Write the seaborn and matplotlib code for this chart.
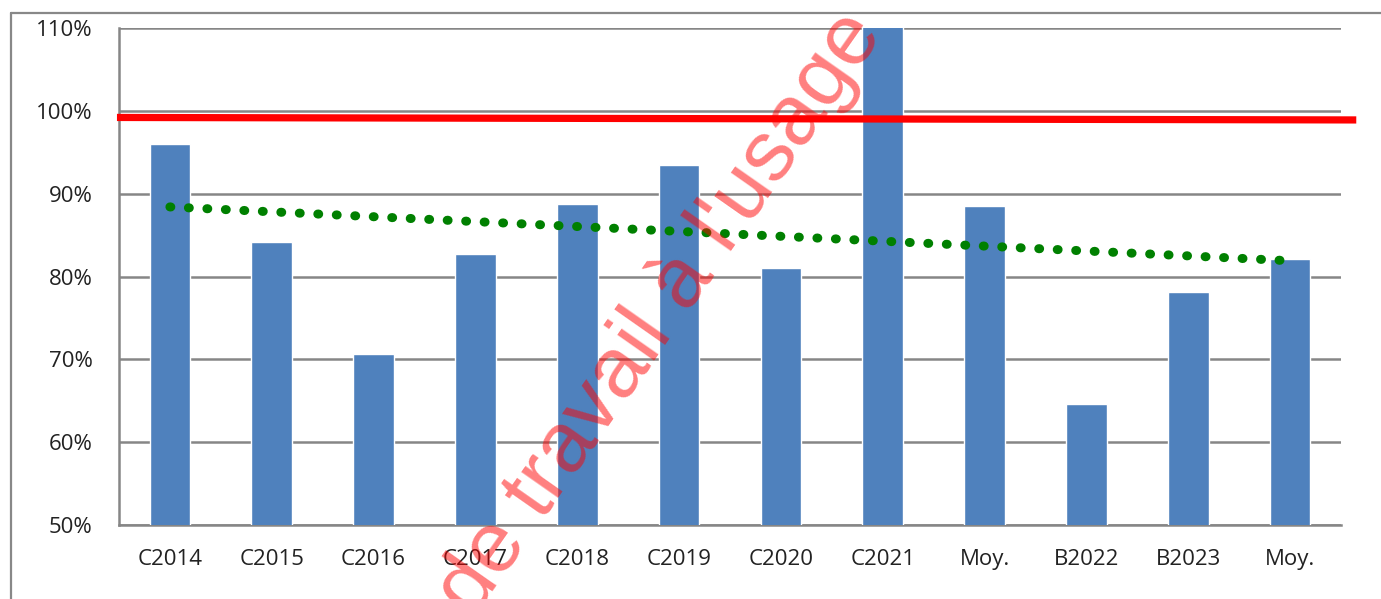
import numpy as np
import pandas as pd
import matplotlib
matplotlib.use("Agg")
import matplotlib.pyplot as plt
from matplotlib.lines import Line2D
from matplotlib.ticker import FuncFormatter
import seaborn as sns

categories = ["C2014", "C2015", "C2016", "C2017", "C2018", "C2019",
              "C2020", "C2021", "Moy.", "B2022", "B2023", "Moy."]
values = [96.0, 84.2, 70.7, 82.7, 88.8, 93.5, 81.0, 112.0, 88.5, 64.6, 78.1, 82.1]
target_line = [99.2, 98.9]      # red reference line, left / right end
trend_line = [88.4, 81.9]       # green dotted trend, first / last bar
y_ticks = [50, 60, 70, 80, 90, 100, 110]

sns.set_theme(style="white")
plt.rcParams["font.family"] = ["Open Sans", "DejaVu Sans"]

df = pd.DataFrame({"pos": np.arange(len(categories)), "value": values})

fig = plt.figure(figsize=(13.81, 5.99), dpi=100)
ax = fig.add_axes([119 / 1381, 74 / 599, 1222 / 1381, 497 / 599])

sns.barplot(data=df, x="pos", y="value", color="#4F81BD", saturation=1,
            width=0.4, ax=ax, zorder=3)

ax.set_xlim(-0.5, len(categories) - 0.5)
ax.set_ylim(50, 110)
ax.set_yticks(y_ticks)
ax.yaxis.set_major_formatter(FuncFormatter(lambda v, p: f"{v:.0f}%"))
ax.set_xticks(range(len(categories)))
ax.set_xticklabels(categories)
ax.set_xlabel("")
ax.set_ylabel("")
ax.tick_params(axis="both", length=0, labelsize=16, colors="#222222")
ax.tick_params(axis="y", pad=19)
ax.tick_params(axis="x", pad=17)

ax.grid(axis="y", color="#868686", linewidth=1.8, zorder=0)
ax.set_axisbelow(True)
for side in ["top", "right"]:
    ax.spines[side].set_visible(False)
for side in ["left", "bottom"]:
    ax.spines[side].set_color("#868686")
    ax.spines[side].set_linewidth(1.8)

# red objective line, running slightly past the plot area
ax.plot([-0.52, 11.65], target_line, color="#FF0000", linewidth=5.2,
        solid_capstyle="butt", clip_on=False, zorder=5)

# green dotted trend
ax.plot([0, len(categories) - 1], trend_line, color="#008000", linewidth=6.5,
        linestyle=(0, (0.1, 1.95)), dash_capstyle="round", zorder=6)

# outer chart frame
fig.add_artist(Line2D([11 / 1381, 1.0], [1 - 13 / 599, 1 - 13 / 599],
                      color="#888888", linewidth=1.6))
fig.add_artist(Line2D([11 / 1381, 11 / 1381], [0, 1 - 13 / 599],
                      color="#888888", linewidth=1.6))

# watermark (cut off at the figure edge, as in the original)
fig.text(660 / 1381, 1 - 314 / 599, "de travail à l'usage", color="#FF0000",
         alpha=0.5, fontsize=62, rotation=55, rotation_mode="anchor",
         ha="center", va="center", family=["Liberation Sans", "DejaVu Sans"],
         zorder=10)

fig.savefig("out.png", dpi=100)
